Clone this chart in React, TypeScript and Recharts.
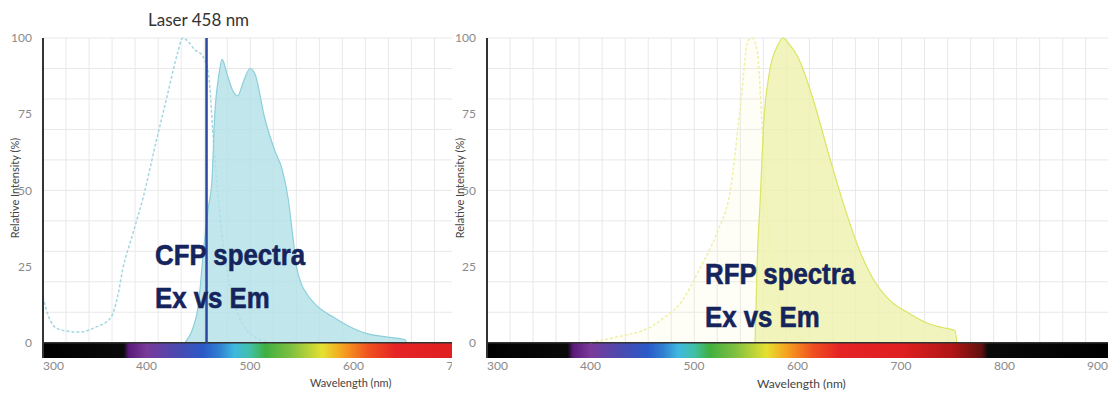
import { ComposedChart, Area, XAxis, YAxis, CartesianGrid, ReferenceArea, ReferenceLine } from 'recharts';

// CFP (left panel) — excitation is the dotted curve, emission the filled one
const CFP_EX_NM = [300, 305, 312, 320, 336, 350, 365, 372, 377, 387, 397, 410, 420, 430, 435, 440, 447, 452, 456, 460, 465, 470, 475, 480, 490, 500, 510, 520];
const CFP_EX_PCT = [15, 9, 5, 4, 3.5, 5, 8, 15, 24, 36, 48, 67, 81, 95, 100, 99, 96, 95, 93, 88, 65, 45, 30, 20, 8, 3, 1, 0];
const CFP_EM_NM = [437, 445, 450, 455, 460, 463, 466, 470, 473, 478, 483, 488, 494, 500, 505, 514, 524, 531, 537, 541, 545, 550, 555, 565, 580, 595, 613, 630, 650, 651];
const CFP_EM_PCT = [0, 5, 12, 30, 45, 52, 75, 88, 93, 88, 83, 81, 86, 90, 88, 74, 63, 57, 47, 36, 25, 19, 16, 12, 8.5, 5.5, 3, 2, 1, 0];

// RFP (right panel)
const RFP_EX_NM = [400, 420, 440, 457, 470, 489, 505, 522, 535, 545, 552, 556, 561, 566, 570, 575, 582, 590, 600, 612];
const RFP_EX_PCT = [0, 1.5, 3, 5, 8, 14, 24, 36, 50, 78, 99, 100, 96, 70, 45, 28, 14, 6, 2, 0];
const RFP_EM_NM = [559, 561, 564, 567, 573, 580, 586, 592, 600, 615, 630, 645, 658, 673, 689, 706, 725, 740, 752, 754];
const RFP_EM_PCT = [0, 26, 47, 70, 89, 97, 100, 98, 94, 80, 62, 45, 32, 21, 14, 10, 6.5, 5, 4, 0];

const LASER_NM = 458;
const Y_TICKS = [0, 25, 50, 75, 100];
const Y_GRID = [0, 10, 20, 30, 40, 50, 60, 70, 80, 90, 100];
const CFP_X_TICKS = [300, 400, 500, 600, 700];
const RFP_X_TICKS = [300, 400, 500, 600, 700, 800, 900];

// colour bar under the plots
const SPECTRUM_NM = [300, 378, 383, 400, 430, 455, 470, 485, 500, 515, 540, 570, 590, 615, 640, 700, 750, 778, 784, 900];
const SPECTRUM_COLORS = ['#000000', '#0a0a0a', '#5a1a7a', '#7a3a9a', '#4a4ab0', '#2a5ac8', '#2f7fd0', '#3fb8e0', '#40c0a8', '#40b040', '#80c040', '#e6e030', '#f5a020', '#f05020', '#e52525', '#e02020', '#b01515', '#601010', '#0a0a0a', '#000000'];

const Y_MIN = -5;
const Y_MAX = 100;

const toSeries = (nm: number[], pct: number[]) => nm.map((w, i) => ({ nm: w, pct: pct[i] }));

const FONT = 'Lato, "DejaVu Sans", sans-serif';

const makeTick = (first: number, last: number) => (props: any) => {
  const { x, y, payload } = props;
  const anchor = payload.value === first ? 'start' : payload.value === last ? 'end' : 'middle';
  return (
    <text x={x} y={y} dy={4} textAnchor={anchor} fill="#8a8a8a" fontSize={12} fontFamily={FONT}>
      {payload.value}
    </text>
  );
};

type PanelProps = {
  id: string;
  width: number;
  yAxisWidth: number;
  xMax: number;
  xTicks: number[];
  lastLabel: number;
  ex: { nm: number; pct: number }[];
  em: { nm: number; pct: number }[];
  exStroke: string;
  exFill: string;
  emFill: string;
  emStroke: string;
  laser?: number;
};

const SpectrumPanel = ({ id, width, yAxisWidth, xMax, xTicks, lastLabel, ex, em, exStroke, exFill, emFill, emStroke, laser }: PanelProps) => {
  const span = xMax - 300;
  const gridNm = Array.from({ length: Math.floor(span / 22.25) + 1 }, (_, i) => 300 + i * 22.25);
  return (
    <ComposedChart width={width} height={396} margin={{ top: 38, right: 2, bottom: 0, left: 0 }}>
      <defs>
        <linearGradient id={id} x1="0" y1="0" x2="1" y2="0">
          {SPECTRUM_NM.map((nm, i) => (
            <stop key={i} offset={Math.min(1, Math.max(0, (nm - 300) / span))} stopColor={SPECTRUM_COLORS[i]} />
          ))}
        </linearGradient>
      </defs>
      <CartesianGrid
        stroke="#e8e8e8"
        horizontalCoordinatesGenerator={({ offset }: any) =>
          Y_GRID.map((v) => offset.top + (offset.height * (Y_MAX - v)) / (Y_MAX - Y_MIN))
        }
        verticalCoordinatesGenerator={({ offset }: any) => gridNm.map((v) => offset.left + (offset.width * (v - 300)) / span)}
      />
      <XAxis
        type="number"
        dataKey="nm"
        domain={[300, xMax]}
        ticks={xTicks}
        interval={0}
        allowDataOverflow
        axisLine={false}
        tickLine={false}
        height={38}
        tick={makeTick(300, lastLabel)}
      />
      <YAxis
        type="number"
        domain={[Y_MIN, Y_MAX]}
        ticks={Y_TICKS}
        interval={0}
        width={yAxisWidth}
        axisLine={{ stroke: '#333', strokeWidth: 2 }}
        tickLine={false}
        tickMargin={5}
        tick={{ fill: '#8a8a8a', fontSize: 12, fontFamily: FONT }}
      />
      <ReferenceArea x1={300} x2={xMax} y1={Y_MIN} y2={0} fill={`url(#${id})`} fillOpacity={1} stroke="none" />
      <Area
        data={ex}
        dataKey="pct"
        type="monotone"
        stroke={exStroke}
        strokeWidth={1.5}
        strokeDasharray="3 2"
        fill={exFill}
        fillOpacity={0.15}
        isAnimationActive={false}
        dot={false}
        activeDot={false}
      />
      <Area
        data={em}
        dataKey="pct"
        type="monotone"
        stroke={emStroke}
        strokeWidth={1.2}
        fill={emFill}
        fillOpacity={0.8}
        isAnimationActive={false}
        dot={false}
        activeDot={false}
      />
      <ReferenceLine y={0} stroke="#333" strokeWidth={1.5} />
      {laser !== undefined && (
        <ReferenceLine
          segment={[{ x: laser, y: 0 }, { x: laser, y: 100 }]}
          stroke="#2b479f"
          strokeWidth={2.5}
        />
      )}
    </ComposedChart>
  );
};

const overlayText: React.CSSProperties = {
  position: 'absolute',
  fontFamily: '"Liberation Sans", Arial, sans-serif',
  fontWeight: 700,
  fontSize: 30,
  lineHeight: '43px',
  color: '#15245c',
  WebkitTextStroke: '0.6px #15245c',
  transform: 'scaleX(0.86)',
  transformOrigin: 'left top',
  whiteSpace: 'nowrap',
};

const axisTitle: React.CSSProperties = {
  position: 'absolute',
  fontFamily: FONT,
  fontSize: 11,
  color: '#444',
  whiteSpace: 'nowrap',
};

export default function App() {
  return (
    <div style={{ position: 'absolute', left: 0, top: 0, width: 1110, height: 396, background: '#fff', overflow: 'hidden' }}>
      {/* right panel: RFP */}
      <div style={{ position: 'absolute', left: 440, top: 0 }}>
        <SpectrumPanel
          id="specR"
          width={670}
          yAxisWidth={47}
          xMax={900}
          xTicks={RFP_X_TICKS}
          lastLabel={900}
          ex={toSeries(RFP_EX_NM, RFP_EX_PCT)}
          em={toSeries(RFP_EM_NM, RFP_EM_PCT)}
          exStroke="#eef0a4"
          exFill="#f6f8cc"
          emFill="#eef3ad"
          emStroke="#dbe463"
        />
      </div>
      {/* left panel: CFP, cropped just after the "7" of 700 */}
      <div style={{ position: 'absolute', left: 0, top: 0, width: 452, height: 396, overflow: 'hidden', background: '#fff' }}>
        <SpectrumPanel
          id="specL"
          width={459}
          yAxisWidth={43}
          xMax={700}
          xTicks={CFP_X_TICKS}
          lastLabel={-1}
          ex={toSeries(CFP_EX_NM, CFP_EX_PCT)}
          em={toSeries(CFP_EM_NM, CFP_EM_PCT)}
          exStroke="#a3d7df"
          exFill="#ffffff"
          emFill="#b2e1e7"
          emStroke="#8ccfd9"
          laser={LASER_NM}
        />
      </div>

      <div style={{ position: 'absolute', left: 148, top: 9, fontFamily: FONT, fontSize: 17, color: '#333', whiteSpace: 'nowrap' }}>
        Laser 458 nm
      </div>

      <div style={{ ...axisTitle, left: 14, top: 188, transform: 'translate(-50%, -50%) rotate(-90deg)' }}>Relative Intensity (%)</div>
      <div style={{ ...axisTitle, left: 459, top: 188, transform: 'translate(-50%, -50%) rotate(-90deg)' }}>Relative Intensity (%)</div>
      <div style={{ ...axisTitle, left: 310, top: 376 }}>Wavelength (nm)</div>
      <div style={{ ...axisTitle, left: 757, top: 376, fontSize: 12 }}>Wavelength (nm)</div>

      <div style={{ ...overlayText, left: 155, top: 233 }}>
        CFP spectra
        <br />
        Ex vs Em
      </div>
      <div style={{ ...overlayText, left: 705, top: 252 }}>
        RFP spectra
        <br />
        Ex vs Em
      </div>
    </div>
  );
}
